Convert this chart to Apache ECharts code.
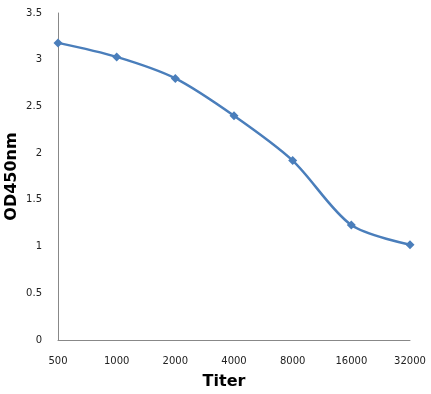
<!DOCTYPE html>
<html><head><meta charset="utf-8">
<script src="https://cdn.jsdelivr.net/npm/echarts@6/dist/echarts.min.js"></script>
<style>html,body{margin:0;padding:0;background:#fff}#c{width:431px;height:394px}</style>
</head><body><div id="c"></div>
<script>
const categories = ['500','1000','2000','4000','8000','16000','32000'];
const odValues = [3.18, 3.03, 2.80, 2.40, 1.92, 1.23, 1.02];
const yTicks = [0, 0.5, 1, 1.5, 2, 2.5, 3, 3.5];

const chart = echarts.init(document.getElementById('c'), null, {renderer:'canvas'});
chart.setOption({
  animation: false,
  backgroundColor: '#fff',
  grid: {left: 58, right: 21, top: 13, bottom: 54, containLabel: false, outerBoundsMode: 'none'},
  xAxis: {
    type: 'category', data: categories, boundaryGap: false,
    name: 'Titer', nameLocation: 'middle', nameGap: 34, nameMoveOverlap: false,
    nameTextStyle: {fontFamily: 'DejaVu Sans', fontWeight: 'bold', fontSize: 16, color: '#000', padding: [0, 20, 0, 0]},
    axisLine: {lineStyle: {color: '#888', width: 1}},
    axisTick: {show: false},
    axisLabel: {color: '#222', fontFamily: 'DejaVu Sans', fontSize: 10, margin: 16},
    splitLine: {show: false}
  },
  yAxis: {
    type: 'value', min: 0, max: 3.5, interval: 0.5,
    name: 'OD450nm', nameLocation: 'middle', nameGap: 38, nameMoveOverlap: false,
    nameTextStyle: {fontFamily: 'DejaVu Sans', fontWeight: 'bold', fontSize: 16, color: '#000'},
    axisLine: {show: true, lineStyle: {color: '#888', width: 1}},
    axisTick: {show: false},
    axisLabel: {color: '#222', fontFamily: 'DejaVu Sans', fontSize: 10, margin: 16,
      formatter: v => yTicks.includes(v) ? String(v) : ''},
    splitLine: {show: false}
  },
  series: [{
    type: 'line', data: odValues, smooth: 0.3,
    symbol: 'diamond', symbolSize: 9,
    lineStyle: {color: '#4a7ebb', width: 2.5},
    itemStyle: {color: '#4a7ebb'}
  }]
});
</script></body></html>
